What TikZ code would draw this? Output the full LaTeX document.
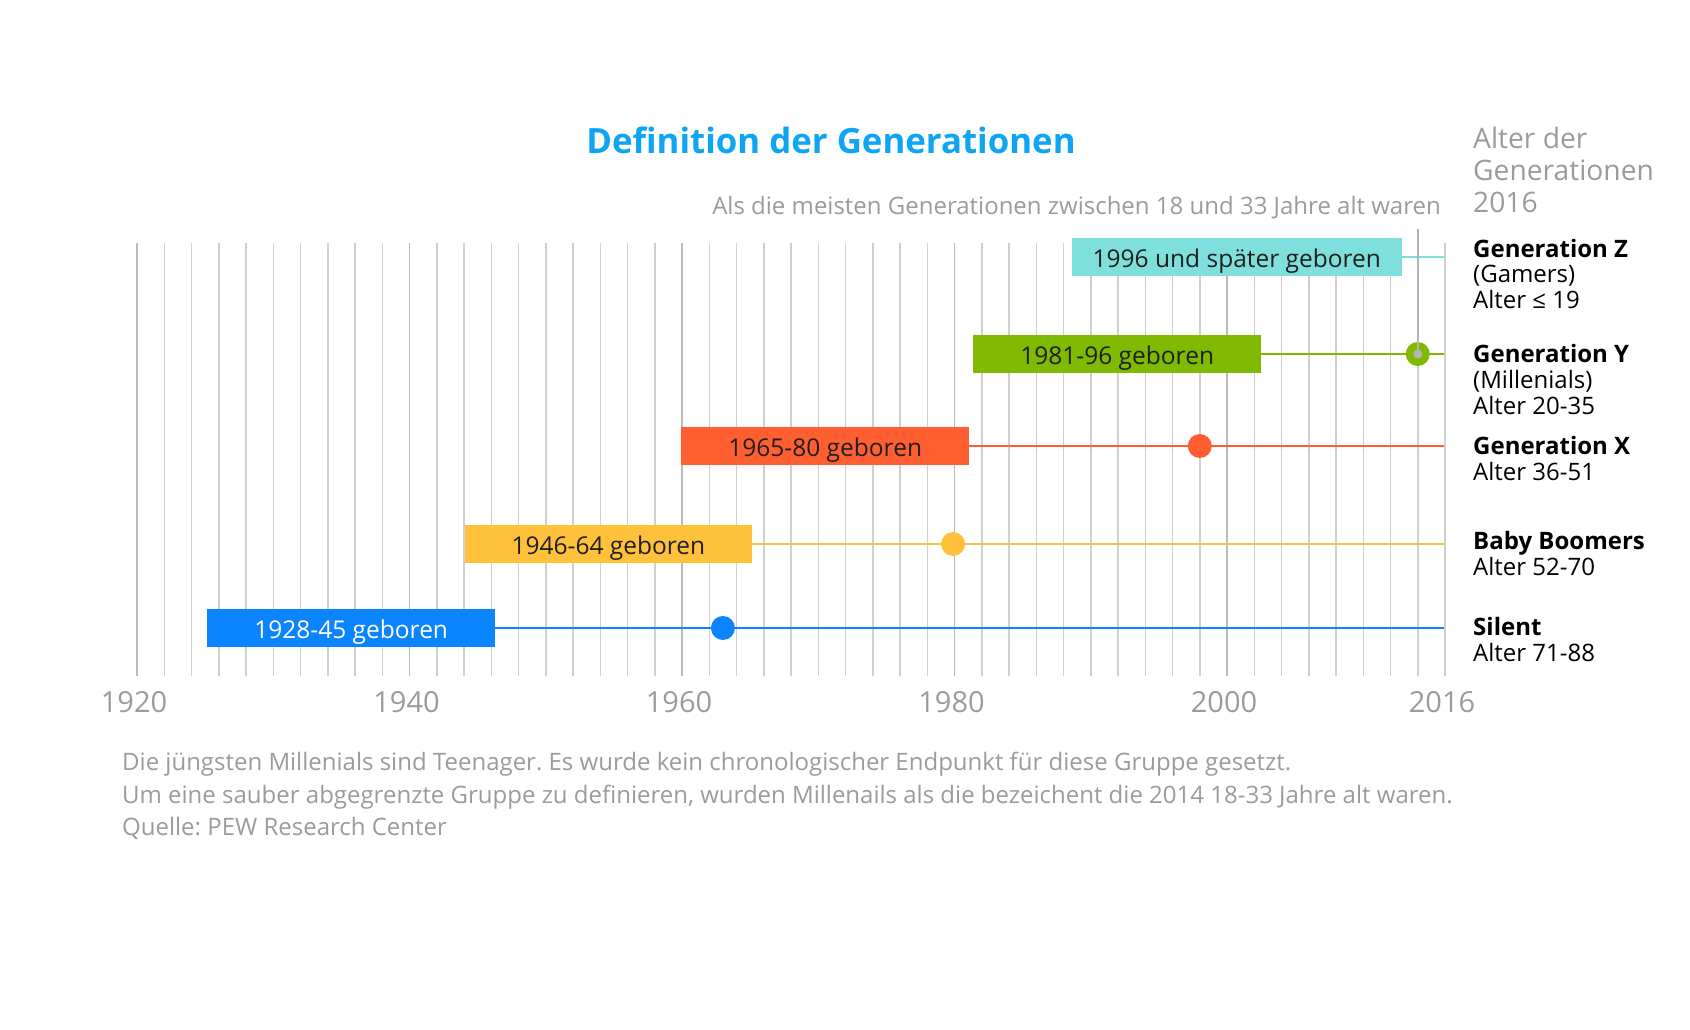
\documentclass[tikz,border=0pt]{standalone}
\usepackage{fontspec}
\setmainfont{Open Sans}
\usetikzlibrary{positioning}
\frenchspacing
\definecolor{zcol}{HTML}{7FDFDC}
\definecolor{ycol}{HTML}{7FBA00}
\definecolor{xcol}{HTML}{FF5F30}
\definecolor{bcol}{HTML}{FFC13B}
\definecolor{scol}{HTML}{0A84FF}
\definecolor{titleblue}{HTML}{0EA5F4}
\definecolor{txtgray}{HTML}{9B9B9B}
\definecolor{gridmajor}{HTML}{BABABA}
\definecolor{gridminor}{HTML}{D0D0D0}
\definecolor{markgray}{HTML}{B4B4B4}

\begin{document}
\begin{tikzpicture}[x=1pt,y=-1pt,
  minor/.style={draw=gridminor,line width=1.5pt},
  major/.style={draw=gridmajor,line width=1.8pt},
  genbox/.style={rectangle,anchor=west,inner sep=0pt,minimum height=38pt,
    text height=20pt,text depth=0pt,
    font=\fontsize{24.5}{28}\selectfont,text=black!88},
  gendot/.style={circle,inner sep=0pt,minimum size=24pt},
  genline/.style={line width=2pt},
  gname/.style={anchor=base west,align=left,inner sep=0pt,
    font=\fontsize{24}{25.8}\selectfont,text=black},
  yrlabel/.style={font=\fontsize{29}{32}\selectfont,text=txtgray,xshift=-3pt},
  note/.style={anchor=west,align=left,inner sep=0pt,
    font=\fontsize{24}{32.3}\selectfont,text=txtgray},
]
\useasboundingbox (0,0) rectangle (1690,1030);

% grid, every two years
\foreach \yr in {1920,1922,...,2016}{
  \pgfmathsetmacro\gx{137+(\yr-1920)*13.625}
  \draw[minor] (\gx,243) -- (\gx,676);
}
\foreach \yr in {1920,1940,...,2000}{
  \pgfmathsetmacro\gx{137+(\yr-1920)*13.625}
  \draw[major] (\gx,243) -- (\gx,676);
}
\foreach \yr in {1920,1940,1960,1980,2000,2016}{
  \node[yrlabel] (y\yr) at ({137+(\yr-1920)*13.625},702) {\yr};
}

% titles
\node[font=\fontsize{34.8}{40}\selectfont\bfseries,text=titleblue] (title) at (831,140)
  {Definition der Generationen};
\node[anchor=east,inner sep=0pt,font=\fontsize{24}{28}\selectfont,text=txtgray] (sub) at (1441,208)
  {Als die meisten Generationen zwischen 18 und 33 Jahre alt waren};
\node[anchor=west,align=left,inner sep=0pt,font=\fontsize{28.2}{32.3}\selectfont,text=txtgray]
  (alter) at (1473,170) {Alter der\\Generationen\\2016};

% end points at 2016
\coordinate (zend) at (1444,257.3);
\coordinate (yend) at (1444,354);
\coordinate (xend) at (1444,446);
\coordinate (bend) at (1444,544);
\coordinate (send) at (1444,628);
\coordinate (mark14) at (1417.7,229);

% boxes
\node[genbox,fill=zcol,minimum width=330pt] (genz) at (1071.6,257.3) {1996 und später geboren};
\node[genbox,fill=ycol,minimum width=288pt] (geny) at (973,354) {1981-96 geboren};
\node[genbox,fill=xcol,minimum width=288pt] (genx) at (681,446) {1965-80 geboren};
\node[genbox,fill=bcol,minimum width=287pt] (boom) at (464.7,544) {1946-64 geboren};
\node[genbox,fill=scol,minimum width=288pt,text=white] (silent) at (207,628) {1928-45 geboren};

% lines and dots
\draw[genline,draw=zcol] (genz.east) -- (zend);
\draw[genline,draw=ycol] (geny.east) -- (yend);
\draw[genline,draw=xcol] (genx.east) -- (xend);
\draw[genline,draw=bcol] (boom.east) -- (bend);
\draw[genline,draw=scol] (silent.east) -- (send);
\node[gendot,fill=ycol] (ydot) at (1417.7,354) {};
\node[gendot,fill=xcol] (xdot) at (1199.75,446) {};
\node[gendot,fill=bcol] (bdot) at (953,544) {};
\node[gendot,fill=scol] (sdot) at (722.9,628) {};
\draw[draw=markgray,line width=2pt] (mark14) -- (ydot.center);
\node[circle,fill=markgray,inner sep=0pt,minimum size=9pt] (ymark) at (ydot) {};

% generation names
\node[gname] (nz) at (1473,308.6) {\textbf{Generation Z}\\(Gamers)\\Alter ≤ 19};
\node[gname] (ny) at (1473,414.2) {\textbf{Generation Y}\\(Millenials)\\Alter 20-35};
\node[gname] (nx) at (1473,480.4) {\textbf{Generation X}\\Alter 36-51};
\node[gname] (nb) at (1473,575.4) {\textbf{Baby Boomers}\\Alter 52-70};
\node[gname] (ns) at (1473,661.4) {\textbf{Silent}\\Alter 71-88};

% footnote
\node[note] (foot) at (122,796)
  {Die jüngsten Millenials sind Teenager. Es wurde kein chronologischer Endpunkt für diese Gruppe gesetzt.\\
   Um eine sauber abgegrenzte Gruppe zu definieren, wurden Millenails als die bezeichent die 2014 18-33 Jahre alt waren.\\
   Quelle: PEW Research Center};
\end{tikzpicture}
\end{document}
